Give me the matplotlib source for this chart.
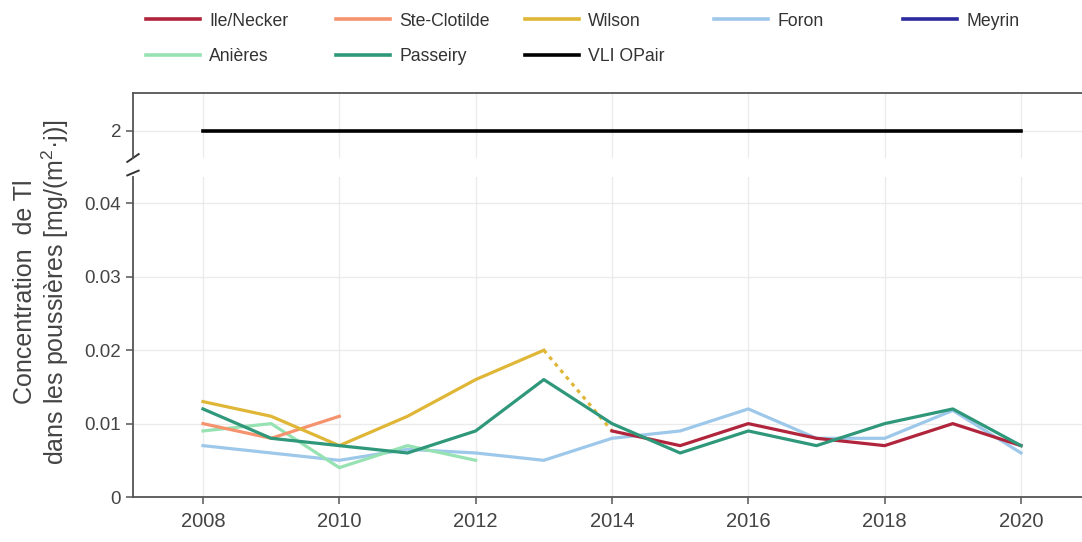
import matplotlib.pyplot as plt
import numpy as np
from matplotlib.lines import Line2D

plt.rcParams['font.family'] = ['Liberation Sans', 'DejaVu Sans']
plt.rcParams['mathtext.fontset'] = 'custom'
plt.rcParams['mathtext.rm'] = 'Liberation Sans'

# donnees
years = list(range(2008, 2021))

ile_years = [2014, 2015, 2016, 2017, 2018, 2019, 2020]
ile = [0.009, 0.007, 0.010, 0.008, 0.007, 0.010, 0.007]

stec_years = [2008, 2009, 2010]
stec = [0.010, 0.008, 0.011]

wilson_years = [2008, 2009, 2010, 2011, 2012, 2013]
wilson = [0.013, 0.011, 0.007, 0.011, 0.016, 0.020]
wilson_gap_years = [2013, 2014]
wilson_gap = [0.020, 0.009]

foron = [0.007, 0.006, 0.005, 0.0065, 0.006, 0.005, 0.008, 0.009, 0.012, 0.008, 0.008, 0.0118, 0.006]

anieres_years = [2008, 2009, 2010, 2011, 2012]
anieres = [0.009, 0.010, 0.004, 0.007, 0.005]

passeiry = [0.012, 0.008, 0.007, 0.006, 0.009, 0.016, 0.010, 0.006, 0.009, 0.007, 0.010, 0.012, 0.007]

vli_years = [2008, 2020]
vli = [2, 2]

colors = {
    'Ile/Necker': '#b0243c',
    'Ste-Clotilde': '#f6936f',
    'Wilson': '#dfb636',
    'Foron': '#9dc8ea',
    'Meyrin': '#2b2a9e',
    'Anières': '#97e2b2',
    'Passeiry': '#2f977a',
    'VLI OPair': '#000000',
}
lw = 2.3
grey = '#555555'
gridc = '#ebebeb'

fig = plt.figure(figsize=(10.82, 5.42), dpi=100)
ax_top = fig.add_axes([0.1229, 0.7085, 0.8771, 0.1199])
ax = fig.add_axes([0.1229, 0.0830, 0.8771, 0.5904])

xlim = (2006.973, 2020.895)

# panneau du bas
ax.plot(years, foron, color=colors['Foron'], lw=lw)
ax.plot(anieres_years, anieres, color=colors['Anières'], lw=lw)
ax.plot(stec_years, stec, color=colors['Ste-Clotilde'], lw=lw)
ax.plot(wilson_years, wilson, color=colors['Wilson'], lw=lw)
ax.plot(wilson_gap_years, wilson_gap, color=colors['Wilson'], lw=lw, ls=(0, (1.2, 1.5)))
ax.plot(ile_years, ile, color=colors['Ile/Necker'], lw=lw)
ax.plot(years, passeiry, color=colors['Passeiry'], lw=lw)

ax.set_xlim(*xlim)
ax.set_ylim(0, 0.0436)
ax.set_xticks(range(2008, 2021, 2))
ax.set_yticks([0, 0.01, 0.02, 0.03, 0.04])
ax.set_yticklabels(['0', '0.01', '0.02', '0.03', '0.04'])
ax.grid(True, color=gridc, lw=1)
ax.set_axisbelow(True)
for s in ['top', 'right']:
    ax.spines[s].set_visible(False)
for s in ['left', 'bottom']:
    ax.spines[s].set_color(grey)
    ax.spines[s].set_linewidth(1.3)
ax.tick_params(colors=grey, labelcolor='#444444', length=5, width=1.1)
ax.tick_params(axis='y', labelsize=13.5)
ax.tick_params(axis='x', labelsize=14.5, pad=6)

# panneau du haut
ax_top.plot(vli_years, vli, color=colors['VLI OPair'], lw=2.6)
ax_top.set_xlim(*xlim)
ax_top.set_ylim(1.7, 2.42)
ax_top.set_xticks(range(2008, 2021, 2))
ax_top.set_yticks([2])
ax_top.set_yticklabels(['2'])
ax_top.grid(True, color=gridc, lw=1)
ax_top.set_axisbelow(True)
for s in ['bottom', 'right']:
    ax_top.spines[s].set_visible(False)
for s in ['left', 'top']:
    ax_top.spines[s].set_color(grey)
    ax_top.spines[s].set_linewidth(1.3)
ax_top.tick_params(axis='x', length=0, labelbottom=False)
ax_top.tick_params(axis='y', colors=grey, labelcolor='#444444', labelsize=13.5, length=5, width=1.1)

# marques de coupure
kw = dict(color='#333333', lw=1.4, clip_on=False)
ax_top.plot([-0.006, 0.006], [-0.06, 0.06], transform=ax_top.transAxes, **kw)
ax.plot([-0.006, 0.006], [1.005, 1.02], transform=ax.transAxes, **kw)

fig.text(0.039, 1 - 292 / 542, 'Concentration  de Tl\ndans les poussières [mg/(m$^{2}$·j)]',
         rotation=90, ha='center', va='center', multialignment='center',
         fontsize=18, color='#444444', linespacing=1.1)

# legende
names = ['Ile/Necker', 'Ste-Clotilde', 'Wilson', 'Foron', 'Meyrin', 'Anières', 'Passeiry', 'VLI OPair']
handles = [Line2D([], [], color=colors[n], lw=2.6) for n in names]
col_x = [144, 334, 523, 712, 901]
for j in range(5):
    idx = [j] + ([j + 5] if j + 5 < len(names) else [])
    fig.legend([handles[i] for i in idx], [names[i] for i in idx],
               loc='upper left', bbox_to_anchor=((col_x[j] - 9) / 1082, 1 - 2 / 542),
               frameon=False, fontsize=12.7, handlelength=3.1, handletextpad=0.5,
               labelspacing=1.05, labelcolor='#333333', borderaxespad=0.2)

fig.savefig('out.png', dpi=100)
